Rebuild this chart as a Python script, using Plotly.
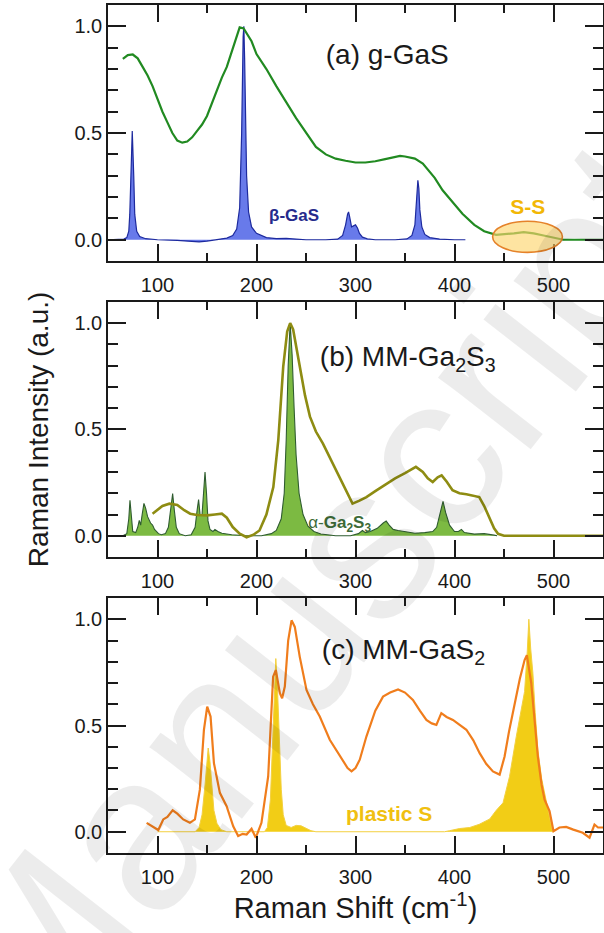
import plotly.graph_objects as go

# ---------------- data ----------------
x_ticks = [100, 200, 300, 400, 500]
y_ticks = [0.0, 0.5, 1.0]

# (a) g-GaS glass spectrum
ga_x = [65, 70, 75, 80, 85, 90, 95, 100, 105, 110, 115, 120, 125, 130, 135, 140, 145, 150, 155, 160,
        165, 170, 175, 180, 183, 187, 190, 195, 200, 210, 220, 227, 230, 240, 250, 260, 270, 280, 290,
        300, 310, 320, 330, 340, 345, 350, 360, 368, 380, 388, 400, 408, 420, 430, 442, 450, 460, 470,
        480, 490, 500, 510, 520, 530, 540, 550]
ga_y = [0.847, 0.865, 0.868, 0.85, 0.81, 0.77, 0.72, 0.66, 0.60, 0.55, 0.50, 0.465, 0.455, 0.46, 0.48,
        0.51, 0.54, 0.58, 0.64, 0.70, 0.76, 0.81, 0.88, 0.96, 0.995, 0.99, 0.965, 0.93, 0.87, 0.80,
        0.72, 0.67, 0.645, 0.57, 0.50, 0.435, 0.40, 0.38, 0.37, 0.362, 0.362, 0.368, 0.378, 0.39,
        0.393, 0.39, 0.38, 0.357, 0.29, 0.232, 0.165, 0.122, 0.07, 0.04, 0.023, 0.025, 0.03, 0.036,
        0.03, 0.02, 0.01, 0.0, 0.0, 0.0, 0.0, 0.0]

# beta-GaS crystal reference
beta_x = [50, 60, 66, 69, 71, 72, 73, 74.5, 76, 77, 79, 82, 88, 100, 120, 135, 142, 150, 160, 170, 176,
          180, 183, 185, 186.5, 187.2, 188, 189, 190, 192, 195, 200, 210, 220, 230, 240, 250, 270, 282,
          287, 290, 292, 293, 294, 296, 298, 300, 302, 304, 307, 312, 320, 340, 352, 357, 360, 362, 363,
          364, 365, 367, 370, 375, 385, 400, 411]
beta_y = [0.0, 0.0, 0.003, 0.01, 0.04, 0.12, 0.32, 0.51, 0.30, 0.12, 0.04, 0.015, 0.005, 0.0, -0.003,
          -0.008, -0.01, -0.006, 0.0, 0.008, 0.02, 0.05, 0.15, 0.5, 0.95, 1.0, 0.85, 0.55, 0.3, 0.13,
          0.06, 0.03, 0.01, 0.005, 0.006, 0.003, 0.0, 0.0, 0.003, 0.02, 0.07, 0.12, 0.13, 0.11, 0.06,
          0.065, 0.07, 0.055, 0.03, 0.012, 0.004, 0.0, 0.0, 0.004, 0.02, 0.07, 0.2, 0.279, 0.24, 0.14,
          0.06, 0.025, 0.01, 0.003, 0.0, 0.0]

# (b) MM-Ga2S3
mb_x = [95, 100, 105, 112, 120, 127, 133, 140, 150, 158, 165, 170, 176, 183, 190, 197, 203, 210, 217,
        222, 227, 231, 234, 237, 240, 244, 249, 254, 260, 267, 275, 284, 290, 297, 304, 311, 320, 331,
        340, 350, 361, 368, 373, 378, 383, 387, 392, 398, 405, 412, 420, 425, 430, 435, 440, 444, 450,
        470, 500, 530, 550]
mb_y = [0.104, 0.12, 0.14, 0.151, 0.145, 0.12, 0.104, 0.098, 0.096, 0.10, 0.104, 0.085, 0.041, 0.01,
        -0.007, 0.005, 0.025, 0.10, 0.229, 0.45, 0.795, 0.96, 1.0, 0.97, 0.89, 0.795, 0.66, 0.56, 0.49,
        0.434, 0.36, 0.276, 0.215, 0.151, 0.165, 0.182, 0.21, 0.245, 0.27, 0.295, 0.324, 0.30, 0.27,
        0.253, 0.275, 0.284, 0.255, 0.214, 0.20, 0.195, 0.188, 0.182, 0.14, 0.088, 0.035, 0.009, 0.0,
        0.0, 0.0, 0.0, 0.0]

# alpha-Ga2S3 crystal reference
alpha_x = [50, 65, 69, 71, 72.2, 73.5, 75, 78, 80, 81.6, 83, 84.5, 86.3, 88, 90, 93, 95, 97, 99, 101,
           104, 108, 111, 113, 115.3, 117, 119, 122, 128, 134, 138, 140, 141.5, 143, 145, 146.5, 148,
           149.5, 151, 153, 156, 158, 161, 165, 175, 190, 205, 215, 220, 225, 228, 230, 232, 234, 236,
           238, 240, 243, 247, 252, 258, 265, 280, 295, 303, 307, 310, 315, 322, 328, 331, 334, 338,
           343, 350, 360, 370, 378, 382, 385, 388.4, 391, 395, 400, 404, 407, 410, 420, 430, 440, 443]
alpha_y = [0.0, 0.0, 0.01, 0.08, 0.167, 0.09, 0.02, 0.015, 0.04, 0.072, 0.05, 0.1, 0.152, 0.13, 0.09,
           0.06, 0.05, 0.03, 0.02, 0.01, 0.005, 0.01, 0.04, 0.12, 0.198, 0.12, 0.04, 0.01, 0.0, 0.005,
           0.04, 0.12, 0.17, 0.10, 0.10, 0.2, 0.30, 0.20, 0.07, 0.03, 0.02, 0.03, 0.02, 0.012, 0.005,
           0.0, 0.0, 0.01, 0.025, 0.08, 0.2, 0.45, 0.8, 1.0, 0.85, 0.6, 0.38, 0.2, 0.1, 0.045, 0.02,
           0.008, 0.0, 0.0, 0.01, 0.025, 0.015, 0.02, 0.035, 0.06, 0.069, 0.05, 0.03, 0.025, 0.02,
           0.012, 0.015, 0.02, 0.04, 0.1, 0.162, 0.11, 0.05, 0.02, 0.02, 0.03, 0.015, 0.008, 0.01,
           0.003, 0.0]

# (c) MM-GaS2
mc_x = [89, 94, 100.8, 105.8, 110, 115.3, 120, 126, 132.7, 137.8, 142.8, 146.9, 150.2, 153.6, 157, 163,
        169.8, 176.5, 181.5, 186, 190, 195, 199.3, 205, 211.8, 216.8, 219.5, 223.6, 225.9, 228.6, 232,
        235.4, 238.7, 243.7, 250.5, 257, 263.9, 274, 284, 287.4, 292, 296, 300, 304.3, 311, 320, 327.8,
        335, 343, 350, 358, 365, 371.6, 377, 381.7, 386.7, 392, 398.4, 405, 412, 419, 425.4, 432, 438.8,
        445.6, 450.6, 455, 460.7, 466, 470.8, 473.1, 477.5, 481, 484.2, 488, 491, 496, 500, 506, 512.8,
        520, 529.6, 536.4, 541.4, 545, 550]
mc_y = [0.042, 0.026, 0.008, 0.058, 0.07, 0.101, 0.085, 0.058, 0.042, 0.058, 0.198, 0.48, 0.589, 0.542,
        0.323, 0.183, 0.12, 0.026, -0.02, -0.01, -0.013, 0.014, -0.028, 0.042, 0.26, 0.73, 0.761, 0.652,
        0.628, 0.683, 0.90, 0.995, 0.964, 0.823, 0.667, 0.60, 0.542, 0.433, 0.36, 0.339, 0.30, 0.284,
        0.30, 0.339, 0.448, 0.57, 0.636, 0.655, 0.670, 0.655, 0.62, 0.57, 0.526, 0.51, 0.503, 0.558,
        0.54, 0.526, 0.505, 0.48, 0.43, 0.37, 0.32, 0.284, 0.269, 0.354, 0.47, 0.605, 0.72, 0.808,
        0.831, 0.70, 0.52, 0.354, 0.22, 0.151, 0.097, 0.003, 0.02, 0.023, 0.01, -0.005, -0.028, 0.034,
        0.02, 0.02]

# plastic sulfur reference
ps_x = [100, 138, 142, 145, 148, 150, 151.2, 153, 155, 157, 160, 164, 170, 208, 211, 214, 216.5, 218.5,
        219.5, 221, 223, 225, 227, 230, 235, 240, 245, 250, 255, 260, 390, 395, 405, 415.4, 425, 435.6,
        442, 449, 455.6, 462.4, 467, 470.8, 473.5, 475.1, 477, 479.2, 481.5, 484.2, 488, 492.7, 496,
        498.8, 500]
ps_y = [0.0, 0.0, 0.02, 0.08, 0.22, 0.33, 0.394, 0.33, 0.2, 0.1, 0.04, 0.01, 0.0, 0.0, 0.02, 0.15, 0.45,
        0.7, 0.815, 0.7, 0.42, 0.2, 0.08, 0.03, 0.02, 0.03, 0.028, 0.018, 0.005, 0.0, 0.0, 0.005, 0.015,
        0.02, 0.035, 0.06, 0.1, 0.136, 0.26, 0.448, 0.56, 0.66, 0.85, 1.0, 0.86, 0.745, 0.56, 0.385,
        0.25, 0.136, 0.07, 0.01, 0.0]

# ---------------- figure ----------------
FONT = "Liberation Sans, Arial, sans-serif"
INK = "#1a1a1a"
PAD = "\u2002\u2009"
fig = go.Figure()

fig.add_trace(go.Scatter(x=beta_x, y=beta_y, mode="lines", fill="tozeroy",
                         fillcolor="rgb(104,122,234)", line=dict(color="#1d2a9e", width=1.2),
                         xaxis="x", yaxis="y", showlegend=False))
fig.add_trace(go.Scatter(x=ga_x, y=ga_y, mode="lines", line=dict(color="#218a21", width=2.2),
                         xaxis="x", yaxis="y", showlegend=False))
fig.add_trace(go.Scatter(x=alpha_x, y=alpha_y, mode="lines", fill="tozeroy",
                         fillcolor="rgb(124,186,66)", line=dict(color="#2f5c30", width=1.1),
                         xaxis="x2", yaxis="y2", showlegend=False))
fig.add_trace(go.Scatter(x=mb_x, y=mb_y, mode="lines", line=dict(color="#8e8c12", width=2.6),
                         xaxis="x2", yaxis="y2", showlegend=False))
fig.add_trace(go.Scatter(x=ps_x, y=ps_y, mode="lines", fill="tozeroy",
                         fillcolor="rgb(242,205,22)", line=dict(color="#f3d040", width=1),
                         xaxis="x3", yaxis="y3", showlegend=False))
fig.add_trace(go.Scatter(x=mc_x, y=mc_y, mode="lines", line=dict(color="#f07d1c", width=2.2),
                         xaxis="x3", yaxis="y3", showlegend=False))

# in-panel labels as text traces
def label(txt, x, y, ax, size, color, pos="middle center"):
    fig.add_trace(go.Scatter(x=[x], y=[y], mode="text", text=[txt], textposition=pos,
                             textfont=dict(family=FONT, size=size, color=color),
                             xaxis="x" + ax, yaxis="y" + ax, showlegend=False, hoverinfo="skip"))

label("(a) g-GaS", 270, 0.857, "", 28, INK, "middle right")
label("(b) MM-Ga<sub>2</sub>S<sub>3</sub>", 264, 0.83, "2", 28, INK, "middle right")
label("(c) MM-GaS<sub>2</sub>", 266, 0.845, "3", 28, INK, "middle right")
label("<b>β-GaS</b>", 238, 0.11, "", 17, "#262b8c")
label("<b>S-S</b>", 474, 0.146, "", 21, "#f2b705")
label("α-<b>Ga<sub>2</sub>S<sub>3</sub></b>", 284, 0.055, "2", 17, "#3d6b38")
label("<b>plastic S</b>", 334, 0.073, "3", 21, "#f0c010")

def xax(anchor, title=None):
    d = dict(range=[50, 550], anchor=anchor, tickvals=x_ticks,
             ticks="inside", ticklen=17, tickwidth=2, tickcolor=INK,
             showline=True, linewidth=1.5, linecolor=INK, mirror="ticks",
             showgrid=False, zeroline=False, ticklabelstandoff=5,
             tickfont=dict(family=FONT, size=20, color=INK),
             minor=dict(dtick=50, ticks="inside", ticklen=8, tickwidth=2, tickcolor=INK))
    if title:
        d["title"] = dict(text=title, standoff=10, font=dict(family=FONT, size=29, color=INK))
    return d

def yax(anchor, dom, title=None):
    d = dict(range=[-0.1, 1.1], domain=dom, anchor=anchor, tickvals=y_ticks,
             tickformat=".1f", ticksuffix=PAD,
             ticks="inside", ticklen=18, tickwidth=2, tickcolor=INK,
             showline=True, linewidth=1.5, linecolor=INK, mirror="ticks",
             showgrid=False, zeroline=False,
             tickfont=dict(family=FONT, size=20, color=INK),
             minor=dict(dtick=0.1, ticks="inside", ticklen=10, tickwidth=2, tickcolor=INK))
    if title:
        d["title"] = dict(text=title, standoff=18, font=dict(family=FONT, size=28, color=INK))
    return d

fig.update_layout(
    width=604, height=933,
    margin=dict(l=108, r=1, t=5, b=80, autoexpand=False),
    paper_bgcolor="white", plot_bgcolor="white",
    font=dict(family=FONT, color=INK),
    xaxis=xax("y"), yaxis=yax("x", [0.698, 1.0]),
    xaxis2=xax("y2"), yaxis2=yax("x2", [0.349, 0.650], "Raman Intensity (a.u.)"),
    xaxis3=xax("y3", "Raman Shift (cm<sup>-1</sup>)"), yaxis3=yax("x3", [0.0, 0.3007]),
)

# S-S ellipse
fig.add_shape(type="circle", xref="x", yref="y", x0=438.5, x1=509, y0=-0.059, y1=0.0865,
              fillcolor="rgba(253,214,110,0.65)", line=dict(color="#e5822a", width=1.6), layer="above")

# watermark
fig.add_annotation(text="Manuscript", x=0.42, y=0.30, xref="paper", yref="paper", xanchor="center",
                   yanchor="middle", textangle=-52, showarrow=False,
                   font=dict(family=FONT, size=222, color="rgba(0,0,0,0.075)"))

fig.write_html("out.html")
